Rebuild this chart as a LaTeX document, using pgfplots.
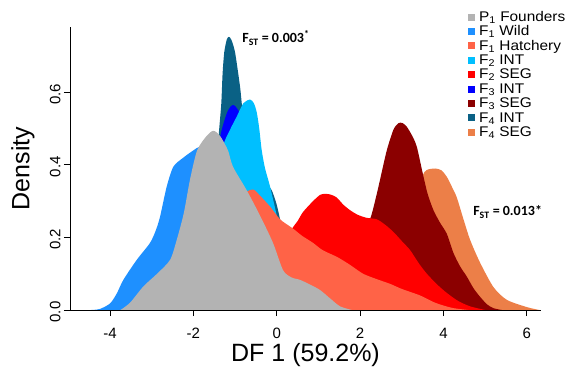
\documentclass[border=0pt]{standalone}
\usepackage{pgfplots}
\pgfplotsset{compat=1.18}
\usepackage{fontspec}
\setmainfont{Liberation Sans}
\newfontfamily\legfont[FakeStretch=1.1]{Liberation Sans}
\newfontfamily\fstfont[BoldFont={Carlito Bold}]{Carlito}
\definecolor{cFound}{HTML}{B3B3B3}
\definecolor{cWild}{HTML}{1E90FF}
\definecolor{cHatch}{HTML}{FF6347}
\definecolor{cFtwoINT}{HTML}{00BFFF}
\definecolor{cFtwoSEG}{HTML}{FF0000}
\definecolor{cFthreeINT}{HTML}{0000FF}
\definecolor{cFthreeSEG}{HTML}{8B0000}
\definecolor{cFfourINT}{HTML}{0A6185}
\definecolor{cFfourSEG}{HTML}{EC7F48}
\begin{document}
\begin{tikzpicture}
\begin{axis}[
  scale only axis, width=471bp, height=283bp,
  xmin=-4.96, xmax=6.34, ymin=0, ymax=0.78,
  clip=false,
  axis lines=left, axis line style={-, line width=0.8bp},
  xtick={-4,-2,0,2,4,6}, ytick={0,0.2,0.4,0.6},
  tick align=outside, major tick length=6bp,
  tick style={line width=0.8bp, black},
  /pgf/number format/assume math mode=true,
  tick label style={font=\fontsize{15bp}{17bp}\selectfont},
  yticklabel style={rotate=90, anchor=south, xshift=-2bp, /pgf/number format/fixed, /pgf/number format/precision=1, /pgf/number format/fixed zerofill},
  xticklabel style={anchor=north, inner sep=0pt, yshift=-12bp},
  xlabel={DF 1 (59.2\%)}, ylabel={Density},
  label style={font=\fontsize{25bp}{28bp}\selectfont, inner sep=0pt},
  xlabel style={at={(axis description cs:0.5,-0.158)}, anchor=center},
  ylabel style={at={(axis description cs:-0.0998,0.5)}, anchor=center},
  legend style={draw=none, fill=none, at={(rel axis cs:0.845,1.0565)}, anchor=north west,
    font=\legfont\fontsize{14bp}{14bp}\selectfont, row sep=0pt, inner sep=0pt,
    /tikz/every odd column/.style={column sep=4bp},
    nodes={inner sep=0pt, text height=10bp, text depth=4.4bp, anchor=base west}},
  legend cell align=left,
  reverse legend,
  legend image code/.code={\fill[#1] (0bp,0.6bp) rectangle (7bp,7.6bp);},
  every axis plot/.append style={smooth, tension=0.45, draw=none},
]
% F4 SEG
\addplot[fill=cFfourSEG] coordinates {(1.8,0) (2.2,0.02) (2.6,0.07) (3.0,0.18) (3.3,0.3) (3.5,0.37) (3.6,0.386) (3.8,0.39) (3.95,0.385) (4.08,0.367) (4.2,0.34) (4.32,0.31) (4.48,0.25) (4.64,0.193) (4.88,0.13) (5.2,0.063) (5.52,0.028) (6.0,0.008) (6.3,0)} \closedcycle;
\addlegendentry{F\textsubscript{4} SEG}
% F4 INT
\addplot[fill=cFfourINT] coordinates {(-2.6,0) (-2.2,0.02) (-1.9,0.08) (-1.6,0.2) (-1.5,0.32) (-1.45,0.4) (-1.38,0.5) (-1.33,0.57) (-1.3,0.65) (-1.26,0.71) (-1.2,0.745) (-1.15,0.753) (-1.09,0.745) (-1.0,0.71) (-0.88,0.615) (-0.83,0.56) (-0.72,0.47) (-0.55,0.4) (-0.4,0.37) (-0.25,0.35) (-0.12,0.33) (0.0,0.29) (0.1,0.24) (0.3,0.15) (0.55,0.07) (0.8,0.02) (1.05,0)} \closedcycle;
\addlegendentry{F\textsubscript{4} INT}
% F3 SEG
\addplot[fill=cFthreeSEG] coordinates {(0.8,0) (1.2,0.02) (1.6,0.07) (1.95,0.15) (2.15,0.22) (2.28,0.265) (2.4,0.32) (2.48,0.36) (2.64,0.44) (2.8,0.497) (2.92,0.515) (3.02,0.515) (3.12,0.505) (3.25,0.48) (3.36,0.45) (3.5,0.378) (3.62,0.32) (3.76,0.275) (3.92,0.24) (4.08,0.21) (4.24,0.157) (4.4,0.12) (4.56,0.092) (4.72,0.06) (4.88,0.036) (5.05,0.015) (5.2,0.005) (5.4,0)} \closedcycle;
\addlegendentry{F\textsubscript{3} SEG}
% F3 INT
\addplot[fill=cFthreeINT] coordinates {(-2.6,0) (-2.2,0.04) (-1.9,0.15) (-1.6,0.33) (-1.45,0.43) (-1.3,0.505) (-1.17,0.55) (-1.05,0.565) (-0.92,0.55) (-0.8,0.5) (-0.65,0.42) (-0.45,0.3) (-0.2,0.17) (0.1,0.07) (0.4,0.02) (0.7,0)} \closedcycle;
\addlegendentry{F\textsubscript{3} INT}
% F2 SEG
\addplot[fill=cFtwoSEG] coordinates {(-0.5,0) (-0.2,0.05) (0.1,0.15) (0.35,0.22) (0.5,0.245) (0.63,0.27) (0.87,0.30) (1.05,0.318) (1.2,0.32) (1.32,0.317) (1.44,0.31) (1.6,0.29) (1.76,0.275) (1.95,0.262) (2.16,0.254) (2.4,0.25) (2.6,0.235) (2.8,0.215) (3.0,0.19) (3.2,0.165) (3.4,0.13) (3.6,0.10) (3.85,0.07) (4.08,0.047) (4.35,0.025) (4.64,0.01) (5.0,0)} \closedcycle;
\addlegendentry{F\textsubscript{2} SEG}
% F2 INT
\addplot[fill=cFtwoINT] coordinates {(-2.4,0) (-2.0,0.04) (-1.7,0.14) (-1.45,0.33) (-1.29,0.45) (-1.12,0.497) (-0.96,0.533) (-0.8,0.57) (-0.64,0.58) (-0.55,0.57) (-0.48,0.545) (-0.42,0.5) (-0.36,0.44) (-0.28,0.39) (-0.16,0.34) (0.0,0.26) (0.2,0.15) (0.5,0.05) (0.8,0)} \closedcycle;
\addlegendentry{F\textsubscript{2} INT}
% F1 Hatchery
\addplot[fill=cHatch] coordinates {(-3.6,0) (-3.0,0.04) (-2.5,0.1) (-2.0,0.18) (-1.5,0.26) (-1.0,0.31) (-0.75,0.325) (-0.56,0.332) (-0.4,0.315) (-0.16,0.285) (0.08,0.25) (0.32,0.23) (0.44,0.22) (0.6,0.205) (0.87,0.185) (1.1,0.165) (1.45,0.146) (1.75,0.125) (2.07,0.10) (2.4,0.085) (2.72,0.072) (3.0,0.058) (3.44,0.04) (3.8,0.02) (4.2,0.006) (4.6,0)} \closedcycle;
\addlegendentry{F\textsubscript{1} Hatchery}
% F1 Wild
\addplot[fill=cWild] coordinates {(-4.45,0) (-4.24,0.003) (-4.0,0.018) (-3.84,0.045) (-3.68,0.083) (-3.36,0.138) (-3.04,0.185) (-2.9,0.22) (-2.8,0.257) (-2.64,0.34) (-2.48,0.395) (-2.24,0.42) (-2.0,0.44) (-1.84,0.45) (-1.6,0.44) (-1.3,0.38) (-1.0,0.3) (-0.6,0.2) (-0.2,0.1) (0.3,0.03) (0.8,0)} \closedcycle;
\addlegendentry{F\textsubscript{1} Wild}
% P1 Founders
\addplot[fill=cFound] coordinates {(-3.75,0) (-3.52,0.02) (-3.2,0.065) (-2.87,0.1) (-2.56,0.138) (-2.4,0.193) (-2.23,0.267) (-2.08,0.36) (-1.91,0.44) (-1.68,0.48) (-1.52,0.494) (-1.36,0.48) (-1.17,0.44) (-1.05,0.395) (-0.72,0.33) (-0.4,0.26) (-0.09,0.185) (0.15,0.11) (0.35,0.09) (0.56,0.083) (0.8,0.07) (1.04,0.055) (1.3,0.03) (1.52,0.01) (1.8,0)} \closedcycle;
\addlegendentry{P\textsubscript{1} Founders}
\node[anchor=west, font=\fstfont\bfseries\fontsize{14bp}{16bp}\selectfont, inner sep=0pt] at (axis cs:-0.83,0.75) {F\textsubscript{ST} = 0.003\textsuperscript{*}};
\node[anchor=west, font=\fstfont\bfseries\fontsize{14bp}{16bp}\selectfont, inner sep=0pt] at (axis cs:4.71,0.27) {F\textsubscript{ST} = 0.013*};
\coordinate (bbsw) at (rel axis cs:-0.1486,-0.2367);
\coordinate (bbne) at (rel axis cs:1.0573,1.0954);
\end{axis}
\pgfresetboundingbox
\path (bbsw) rectangle (bbne);
\end{tikzpicture}
\end{document}
